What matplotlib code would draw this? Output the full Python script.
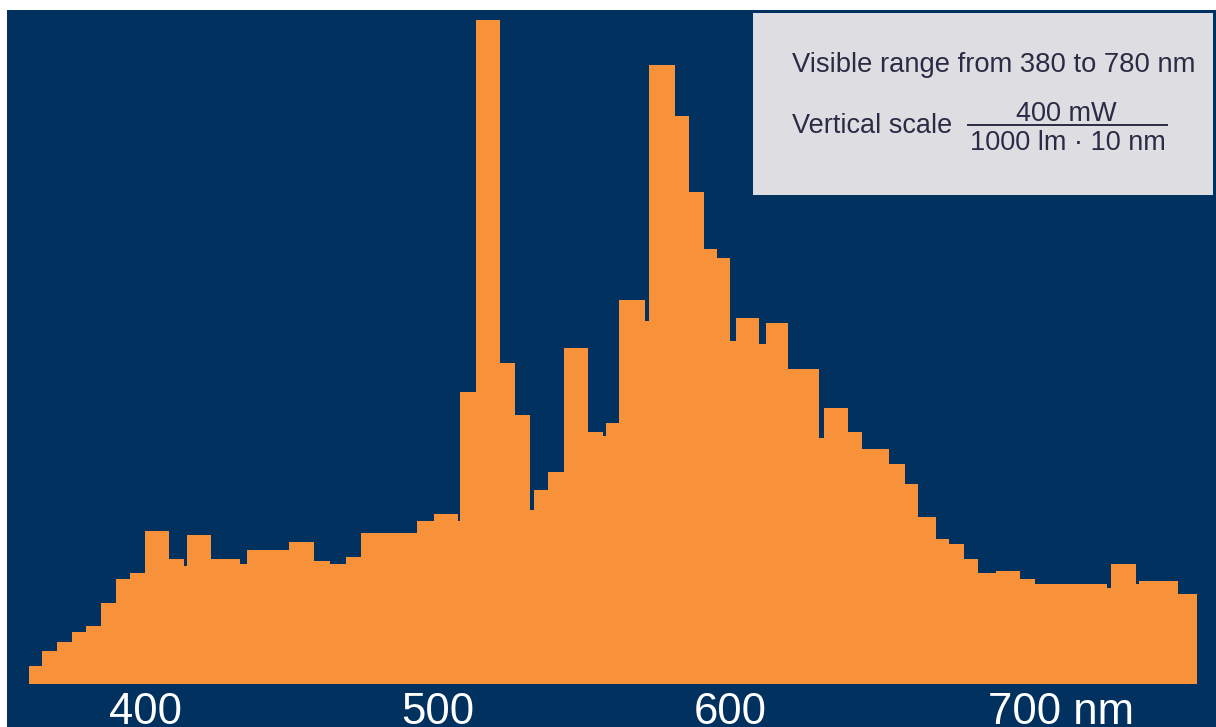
import matplotlib.pyplot as plt

plt.rcParams['font.family'] = ['Liberation Sans', 'DejaVu Sans']

edges = [360.0, 364.5, 369.6, 374.7, 379.5, 384.7, 389.8, 394.6, 399.7, 408.0,
         413.1, 414.1, 422.3, 432.3, 434.7, 449.0, 457.6, 463.1, 468.6, 473.7,
         492.9, 498.7, 506.9, 507.6, 513.1, 521.3, 526.4, 531.6, 533.0, 537.7,
         543.2, 551.4, 556.6, 557.6, 562.1, 571.0, 572.3, 581.2, 586.0, 591.2,
         595.6, 600.1, 602.1, 610.0, 612.4, 619.9, 630.6, 632.3, 640.5, 645.3,
         654.5, 660.0, 664.5, 670.6, 675.1, 680.2, 685.0, 691.2, 699.4, 704.5,
         729.2, 730.6, 739.1, 740.1, 753.5, 760.0]
heights = [2.8, 5.0, 6.4, 7.9, 8.8, 12.3, 15.9, 16.8, 23.1, 18.9,
           17.8, 22.5, 18.9, 18.1, 20.2, 21.4, 18.6, 18.1, 19.2, 22.8,
           24.6, 25.7, 24.6, 44.0, 100.0, 48.4, 40.6, 26.3, 29.3, 32.0,
           50.6, 38.0, 37.4, 39.4, 57.9, 54.7, 93.2, 85.6, 74.1, 65.5,
           64.2, 51.7, 55.2, 51.2, 54.4, 47.5, 37.1, 41.6, 38.0, 35.4,
           33.2, 30.2, 25.2, 21.9, 21.1, 18.9, 16.8, 17.1, 15.9, 15.1,
           14.5, 18.1, 15.1, 15.6, 13.6]
tick_values = [400, 500, 600]
last_tick = 700

navy = '#00315F'
orange = '#F7923A'
box_grey = '#DEDEE2'
box_text = '#2A2C46'

fig = plt.figure(figsize=(12.16, 7.27), dpi=100)
ax = fig.add_axes([7 / 1216, 0, 1209 / 1216, 717 / 727])
ax.set_facecolor(navy)
ax.stairs(heights, edges, fill=True, color=orange, baseline=0)
ax.set_xlim(352.5, 766.5)
ax.set_ylim(-6.4, 101.5)
ax.set_xticks([])
ax.set_yticks([])
for s in ax.spines.values():
    s.set_visible(False)

# wavelength labels under the bars (cut by the bottom edge, as in the original)
for t in tick_values:
    ax.text(t, -1.1, str(t), ha='center', va='top', color='white', fontsize=31.5)
ax.annotate(f"{last_tick} nm", xy=(last_tick, -1.1), xytext=(-24.5, 0),
            textcoords='offset points', ha='left', va='top', color='white', fontsize=31.5)

# info box
bx = fig.add_axes([752.5 / 1216, 1 - 195 / 727, 460.5 / 1216, 182.5 / 727])
bx.set_facecolor(box_grey)
bx.set_xlim(0, 1)
bx.set_ylim(0, 1)
bx.set_xticks([])
bx.set_yticks([])
for s in bx.spines.values():
    s.set_visible(False)
bx.text(0.085, 0.676, "Visible range from 380 to 780 nm", ha='left', va='baseline',
        color=box_text, fontsize=19.7)
bx.text(0.085, 0.338, "Vertical scale", ha='left', va='baseline',
        color=box_text, fontsize=19.5)
bx.text(0.682, 0.405, "400 mW", ha='center', va='baseline', color=box_text, fontsize=19.5)
bx.plot([0.468, 0.8995], [0.384, 0.384], color=box_text, lw=1.4)
bx.text(0.684, 0.247, "1000 lm \u00b7 10 nm", ha='center', va='baseline',
        color=box_text, fontsize=19.5)

fig.savefig('out.png', dpi=100, facecolor='white')
